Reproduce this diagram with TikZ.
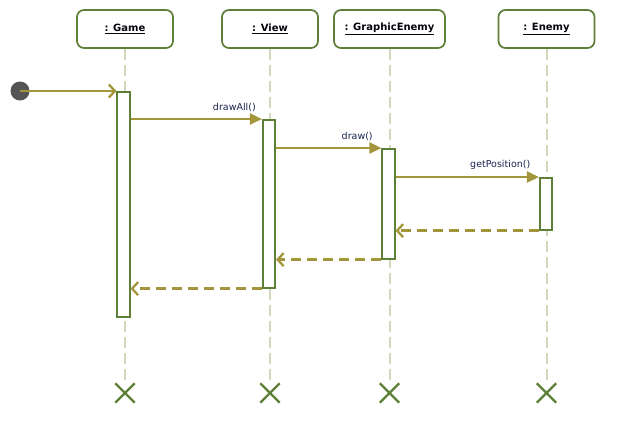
\documentclass[tikz,border=0pt]{standalone}
\usepackage{fontspec}
\setmainfont{DejaVu Sans}
\usepackage{tikz}
\usetikzlibrary{arrows.meta,positioning,calc,shapes.misc}

\definecolor{boxgreen}{HTML}{5E7F38}
\definecolor{msggold}{HTML}{A39539}
\definecolor{lifegray}{HTML}{D4D7BC}
\definecolor{dotgray}{HTML}{555555}
\definecolor{labelblue}{HTML}{1A2350}

\tikzset{
  objbox/.style={draw=boxgreen, line width=1.7pt, rounded corners=7pt, fill=white,
    minimum width=96pt, minimum height=38pt, font=\fontsize{10}{12}\selectfont\bfseries,
    text=black!85!labelblue},
  actbox/.style={draw=boxgreen, line width=1.6pt, fill=white, minimum width=12.5pt,
    inner sep=0pt, anchor=north},
  lifeline/.style={draw=lifegray, line width=2pt, dash pattern=on 11pt off 5pt},
  killmark/.style={cross out, draw=boxgreen, line width=2.4pt, minimum size=17pt, inner sep=0pt},
  msg/.style={draw=msggold, line width=2.5pt, -{Triangle[length=12pt,width=11pt]}},
  retmsg/.style={draw=msggold, line width=2.5pt, dash pattern=on 10pt off 6pt,
    -{Straight Barb[length=6pt,width=13pt,line width=2.3pt]}},
  startmsg/.style={draw=msggold, line width=2.5pt,
    -{Straight Barb[length=6pt,width=13pt,line width=2.3pt]}},
  msglabel/.style={font=\fontsize{9.5}{11}\selectfont, text=labelblue, above=3pt}
}

\begin{document}
\begin{tikzpicture}[x=1pt, y=-1pt]
\useasboundingbox (0,0) rectangle (634,437);

% object headers
\node[objbox] (game)  at (125,29)   {\underline{: Game}};
\node[objbox] (view)  at (270,29)   {\underline{: View}};
\node[objbox, minimum width=111pt] (genemy) at (389.5,29) {\underline{: GraphicEnemy}};
\node[objbox] (enemy) at (546.5,29) {\underline{: Enemy}};

% end of life marks
\node[killmark] (xgame)  at (125,393)   {};
\node[killmark] (xview)  at (270,393)   {};
\node[killmark] (xgenemy) at (389.5,393) {};
\node[killmark] (xenemy) at (546.5,393) {};

% lifelines
\foreach \o in {game,view,genemy,enemy}{
  \draw[lifeline] (\o.south) -- (x\o.north);
}

% activations
\node[actbox, minimum height=225pt] (actGame)  at (123.5,91)  {};
\node[actbox, minimum height=168pt] (actView)  at (269,119)   {};
\node[actbox, minimum height=110pt] (actGE)    at (388.5,148) {};
\node[actbox, minimum height=52pt]  (actEnemy) at (546,177)   {};

% initial call
\fill[dotgray] (20,91) circle (9.5pt) coordinate (start);
\draw[startmsg] (start) -- (actGame.north west);

% synchronous calls
\draw[msg] (actGame.east |- actView.north west) -- (actView.north west)
  node[msglabel, pos=0.79] (lblDrawAll) {drawAll()};
\draw[msg] (actView.east |- actGE.north west) -- (actGE.north west)
  node[msglabel, pos=0.77] (lblDraw) {draw()};
\draw[msg] (actGE.east |- actEnemy.north west) -- (actEnemy.north west)
  node[msglabel, pos=0.73] (lblGetPos) {getPosition()};

% returns
\draw[retmsg] (actEnemy.south west) -- (actGE.east |- actEnemy.south west);
\draw[retmsg] (actGE.south west) -- (actView.east |- actGE.south west);
\draw[retmsg] (actView.south west) -- (actGame.east |- actView.south west);
\end{tikzpicture}
\end{document}
